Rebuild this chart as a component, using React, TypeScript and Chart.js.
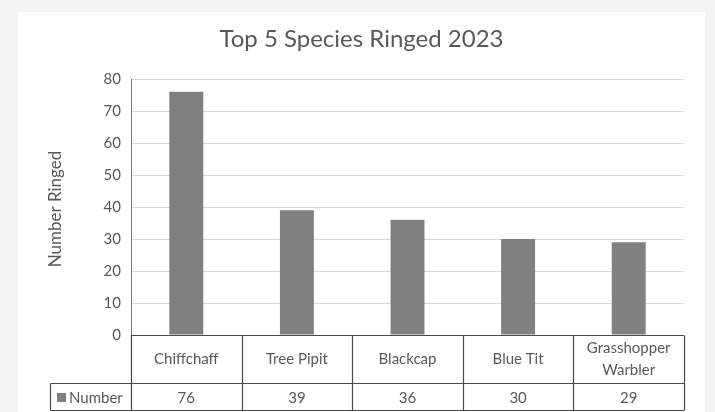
import React, { useEffect, useRef } from "react";
import { Chart, registerables } from "chart.js";

Chart.register(...registerables);

const TITLE = "Top 5 Species Ringed 2023";
const Y_TITLE = "Number Ringed";
const SERIES_NAME = "Number";
const species: (string | string[])[] = [
  "Chiffchaff",
  "Tree Pipit",
  "Blackcap",
  "Blue Tit",
  ["Grasshopper", "Warbler"],
];
const numberRinged = [76, 39, 36, 30, 29];
const Y_MIN = 0;
const Y_MAX = 80;
const Y_STEP = 10;

const FONT = "Lato, 'Open Sans', sans-serif";
const TEXT = "#595959";
const BAR = "#808080";
const GRID = "#d9d9d9";
const TABLE_LINE = "#4a4a4a";

// Page background, white panel, title and rotated axis title
const framePlugin = {
  id: "frame",
  beforeDraw(chart: Chart) {
    const { ctx, width, height } = chart;
    ctx.save();
    ctx.fillStyle = "#f4f4f4";
    ctx.fillRect(0, 0, width, height);
    ctx.fillStyle = "#ffffff";
    ctx.fillRect(18, 12, 687, height - 12);

    ctx.fillStyle = TEXT;
    ctx.textAlign = "center";
    ctx.textBaseline = "middle";
    ctx.font = `24px ${FONT}`;
    ctx.fillText(TITLE, 361.5, 39);

    ctx.translate(56, 209);
    ctx.rotate(-Math.PI / 2);
    ctx.font = `17px ${FONT}`;
    ctx.fillText(Y_TITLE, 0, 0);
    ctx.restore();
  },
};

// Data table beneath the plot: category row, then the value row with legend key
const tablePlugin = {
  id: "dataTable",
  afterDraw(chart: Chart) {
    const { ctx, chartArea } = chart;
    const xScale = chart.scales.x;
    const n = species.length;
    const step = (chartArea.right - chartArea.left) / n;
    const top = Math.round(chartArea.bottom) + 0.5;
    const mid = 383.5;
    const bottom = 410.5;
    const tableLeft = 50.5;

    const edges: number[] = [];
    for (let i = 0; i < n; i++) {
      edges.push(xScale.getPixelForValue(i) - step / 2);
    }
    edges.push(xScale.getPixelForValue(n - 1) + step / 2);

    ctx.save();
    ctx.strokeStyle = TABLE_LINE;
    ctx.lineWidth = 1.2;
    ctx.beginPath();
    ctx.moveTo(edges[0], top);
    ctx.lineTo(edges[n], top);
    ctx.moveTo(tableLeft, mid);
    ctx.lineTo(edges[n], mid);
    ctx.moveTo(tableLeft, bottom);
    ctx.lineTo(edges[n], bottom);
    ctx.moveTo(tableLeft, mid);
    ctx.lineTo(tableLeft, bottom);
    edges.forEach((e) => {
      const x = Math.round(e) + 0.5;
      ctx.moveTo(x, top);
      ctx.lineTo(x, bottom);
    });
    ctx.stroke();

    ctx.fillStyle = TEXT;
    ctx.font = `15px ${FONT}`;
    ctx.textAlign = "center";
    ctx.textBaseline = "middle";
    species.forEach((label, i) => {
      const cx = xScale.getPixelForValue(i);
      const lines = Array.isArray(label) ? label : [label];
      const lh = 22;
      const y0 = (top + mid) / 2 - ((lines.length - 1) * lh) / 2;
      lines.forEach((ln, j) => ctx.fillText(ln, cx, y0 + j * lh));
      ctx.fillText(String(numberRinged[i]), cx, (mid + bottom) / 2 + 1);
    });

    // legend key
    ctx.fillStyle = BAR;
    ctx.fillRect(57, 393, 9, 9);
    ctx.fillStyle = TEXT;
    ctx.textAlign = "left";
    ctx.fillText(SERIES_NAME, 69, (mid + bottom) / 2 + 1);
    ctx.restore();
  },
};

export default function App() {
  const canvasRef = useRef<HTMLCanvasElement | null>(null);

  useEffect(() => {
    const canvas = canvasRef.current;
    if (!canvas) return;
    const chart = new Chart(canvas, {
      type: "bar",
      data: {
        labels: species as any,
        datasets: [
          {
            label: SERIES_NAME,
            data: numberRinged,
            backgroundColor: BAR,
            borderWidth: 0,
            barPercentage: 0.307,
            categoryPercentage: 1,
          },
        ],
      },
      options: {
        responsive: false,
        animation: false,
        devicePixelRatio: 1,
        layout: { padding: { top: 79, right: 31, bottom: 77, left: 0 } },
        plugins: {
          legend: { display: false },
          tooltip: { enabled: false },
          title: { display: false },
        },
        scales: {
          x: { display: false },
          y: {
            min: Y_MIN,
            max: Y_MAX,
            ticks: {
              stepSize: Y_STEP,
              color: TEXT,
              font: { family: FONT, size: 15 },
              padding: 10,
            },
            grid: { color: GRID, drawTicks: false },
            border: { display: true, color: "#7a7a7a", width: 1 },
            afterFit: (scale: any) => {
              scale.width = 131;
            },
          },
        },
      },
      plugins: [framePlugin, tablePlugin],
    });
    return () => chart.destroy();
  }, []);

  return (
    <div style={{ position: "fixed", left: 0, top: 0, width: 715, height: 412 }}>
      <canvas ref={canvasRef} width={715} height={412} />
    </div>
  );
}
